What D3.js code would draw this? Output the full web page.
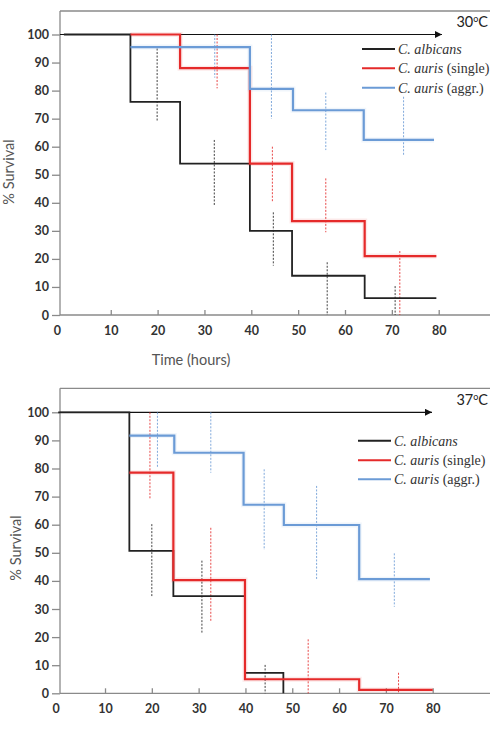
<!DOCTYPE html>
<html>
<head>
<meta charset="utf-8">
<script src="https://cdn.jsdelivr.net/npm/d3@7"></script>
<style>
  body { margin: 0; background: #fff; }
  .tick text { font-family: Lato, "Open Sans", sans-serif; font-weight: 700; font-size: 12.5px; fill: #333; }
  .legend text { font-family: "Liberation Serif", "DejaVu Serif", serif; font-size: 14px; fill: #333; }
  .title { font-family: Lato, "Open Sans", sans-serif; font-size: 14.5px; fill: #555; }
</style>
</head>
<body>
<svg id="chart" width="490" height="730"></svg>
<script>
var xTicks = [0, 10, 20, 30, 40, 50, 60, 70, 80];
var yTicks = [0, 10, 20, 30, 40, 50, 60, 70, 80, 90, 100];
var legendNames = [["C. albicans", ""], ["C. auris", " (single)"], ["C. auris", " (aggr.)"]];
var colors = ["#222", "#e52a2a", "#6b9bd6"];

// 30 C - Kaplan-Meier steps (time in hours, % survival)
var t30Alb = [0, 14.2, 24.8, 39.7, 48.7, 64.2, 79.5];
var s30Alb = [100, 76, 54, 30, 14, 6, 6];
var t30Sin = [14.2, 24.8, 39.7, 48.7, 64.2, 79.5];
var s30Sin = [100, 88, 54, 33.5, 21, 21];
var t30Agg = [14.2, 39.7, 48.9, 64, 79];
var s30Agg = [95.5, 80.6, 73, 62.4, 62.4];

// 30 C error bars
var e30AlbT = [19.9, 32.1, 44.7, 56.2, 70.7];
var e30AlbHi = [95, 62.4, 36.6, 18.8, 10.3];
var e30AlbLo = [69, 39.2, 17.6, 0, 0];
var e30SinT = [32.7, 44.5, 55.9, 71.7];
var e30SinHi = [100, 60, 48.7, 22.8];
var e30SinLo = [80.8, 40.4, 29.5, 0];
var e30AggT = [32.2, 44.3, 55.9, 72.5];
var e30AggHi = [100, 100, 79.3, 77.8];
var e30AggLo = [84.6, 69.9, 58.8, 57];

// 37 C
var t37Alb = [0, 15.2, 24.6, 39.9, 48.1];
var s37Alb = [100, 50.7, 34.6, 7.3, 0];
var t37Sin = [15.2, 24.6, 39.9, 64.3, 80];
var s37Sin = [78.5, 40.3, 5, 1.2, 1.2];
var t37Agg = [15.2, 24.8, 39.6, 48.2, 64.3, 79.4];
var s37Agg = [91.7, 85.6, 67.1, 59.9, 40.6, 40.6];

var e37AlbT = [20, 30.7, 44.2];
var e37AlbHi = [60.2, 47.2, 10.1];
var e37AlbLo = [34.6, 21.6, 0];
var e37SinT = [19.6, 32.6, 53.4, 72.7];
var e37SinHi = [100, 58.9, 19.2, 7.3];
var e37SinLo = [69.4, 25.5, 0, 0];
var e37AggT = [21.2, 32.6, 44, 55.2, 71.8];
var e37AggHi = [100, 100, 79.7, 73.8, 49.8];
var e37AggLo = [80.1, 78.5, 51, 40.6, 30.8];

var svg = d3.select("#chart");

svg.append("defs").append("marker")
  .attr("id", "arrow")
  .attr("viewBox", "0 0 10 10")
  .attr("refX", 10).attr("refY", 5)
  .attr("markerWidth", 9).attr("markerHeight", 7)
  .attr("markerUnits", "userSpaceOnUse")
  .attr("orient", "auto")
  .append("path")
  .attr("d", "M0,0 L10,5 L0,10 Z")
  .attr("fill", "#111");

var drawPanel = function(p) {
  var x = d3.scaleLinear().domain([0, 80]).range([p.x0, p.x80]);
  var y = d3.scaleLinear().domain([0, 100]).range([p.yBottom, p.yTop]);
  var g = svg.append("g");

  // frame top, y axis line, x axis line
  g.append("line").attr("x1", 60).attr("x2", 490).attr("y1", p.frameTop).attr("y2", p.frameTop)
    .attr("stroke", "#8a8a8a").attr("stroke-width", 1.3);
  g.append("line").attr("x1", 60).attr("x2", 60).attr("y1", p.frameTop).attr("y2", p.yBottom)
    .attr("stroke", "#8a8a8a").attr("stroke-width", 1.3);
  g.append("line").attr("x1", 60).attr("x2", 490).attr("y1", p.yBottom).attr("y2", p.yBottom)
    .attr("stroke", "#8a8a8a").attr("stroke-width", 1.3);

  var ya = g.append("g")
    .attr("transform", "translate(60,0)")
    .call(d3.axisLeft(y).tickValues(yTicks).tickSize(8).tickPadding(3));
  ya.select(".domain").remove();
  ya.selectAll("line").attr("stroke", "#8a8a8a").attr("stroke-width", 1.3);

  var xa = g.append("g")
    .attr("transform", "translate(0," + p.yBottom + ")")
    .call(d3.axisBottom(x).tickValues(xTicks).tickSize(-5).tickPadding(11));
  xa.select(".domain").remove();
  xa.selectAll("line").attr("stroke", "#8a8a8a").attr("stroke-width", 1.3);
  var zero = xa.selectAll(".tick").filter(function(d) { return d === 0; });
  zero.select("line").remove();
  zero.select("text").attr("x", p.zeroShift);

  // arrow along 100%
  g.append("line")
    .attr("x1", 60).attr("x2", p.arrowEnd)
    .attr("y1", y(100)).attr("y2", y(100))
    .attr("stroke", "#111").attr("stroke-width", 1.2)
    .attr("marker-end", "url(#arrow)");

  // error bars
  p.errors.forEach(function(e, k) {
    e.t.forEach(function(t, i) {
      g.append("line")
        .attr("x1", x(t)).attr("x2", x(t))
        .attr("y1", y(e.hi[i])).attr("y2", y(e.lo[i]))
        .attr("stroke", colors[k]).attr("stroke-width", 1)
        .attr("stroke-dasharray", "2,1.5")
        .attr("opacity", 0.85);
    });
  });

  var line = d3.line()
    .x(function(d) { return x(d[0]); })
    .y(function(d) { return y(d[1]); })
    .curve(d3.curveStepAfter);

  p.series.forEach(function(s, k) {
    var pts = s.t.map(function(t, i) { return [t, s.v[i]]; });
    if (k > 0) {
      g.append("path").attr("d", line(pts))
        .attr("fill", "none").attr("stroke", colors[k])
        .attr("stroke-width", 5).attr("opacity", 0.1);
    }
    g.append("path").attr("d", line(pts))
      .attr("fill", "none").attr("stroke", colors[k])
      .attr("stroke-width", k > 0 ? 2.2 : 1.8);
  });

  // legend
  var lg = g.append("g").attr("class", "legend");
  legendNames.forEach(function(n, k) {
    var ly = p.legendY[k];
    lg.append("line")
      .attr("x1", p.legendX).attr("x2", p.legendX + 33)
      .attr("y1", ly).attr("y2", ly)
      .attr("stroke", colors[k]).attr("stroke-width", 2);
    var tx = lg.append("text").attr("x", p.legendX + 36).attr("y", ly + 5);
    tx.append("tspan").style("font-style", "italic").text(n[0]);
    if (n[1]) tx.append("tspan").text(n[1]);
  });

  // temperature label
  var tl = g.append("text").attr("class", "title")
    .attr("x", 488).attr("y", p.tempY)
    .attr("text-anchor", "end")
    .style("fill", "#222");
  tl.append("tspan").text(p.temp);
  tl.append("tspan").attr("dy", -5).style("font-size", "9px").text("o");
  tl.append("tspan").attr("dy", 5).text("C");

  // y title
  g.append("text").attr("class", "title")
    .attr("transform", "translate(" + p.yTitleX + "," + p.yTitleY + ") rotate(-90)")
    .attr("text-anchor", "middle")
    .text("% Survival");

  if (p.xTitle) {
    g.append("text").attr("class", "title")
      .attr("x", 191).attr("y", p.yBottom + 50)
      .attr("text-anchor", "middle")
      .text(p.xTitle);
  }
};

drawPanel({
  x0: 63.9, x80: 438.7, yBottom: 315, yTop: 34.5, frameTop: 11,
  zeroShift: -7, arrowEnd: 442, temp: "30", tempY: 27,
  legendX: 362, legendY: [49, 68.3, 87.7],
  yTitleX: 14, yTitleY: 172, xTitle: "Time (hours)",
  series: [{t: t30Alb, v: s30Alb}, {t: t30Sin, v: s30Sin}, {t: t30Agg, v: s30Agg}],
  errors: [{t: e30AlbT, hi: e30AlbHi, lo: e30AlbLo},
           {t: e30SinT, hi: e30SinHi, lo: e30SinLo},
           {t: e30AggT, hi: e30AggHi, lo: e30AggLo}]
});

drawPanel({
  x0: 58.2, x80: 432.7, yBottom: 693.3, yTop: 412.3, frameTop: 388.3,
  zeroShift: -2.5, arrowEnd: 432, temp: "37", tempY: 405,
  legendX: 358, legendY: [440.7, 460.3, 479.3],
  yTitleX: 21, yTitleY: 548, xTitle: null,
  series: [{t: t37Alb, v: s37Alb}, {t: t37Sin, v: s37Sin}, {t: t37Agg, v: s37Agg}],
  errors: [{t: e37AlbT, hi: e37AlbHi, lo: e37AlbLo},
           {t: e37SinT, hi: e37SinHi, lo: e37SinLo},
           {t: e37AggT, hi: e37AggHi, lo: e37AggLo}]
});
</script>
</body>
</html>
